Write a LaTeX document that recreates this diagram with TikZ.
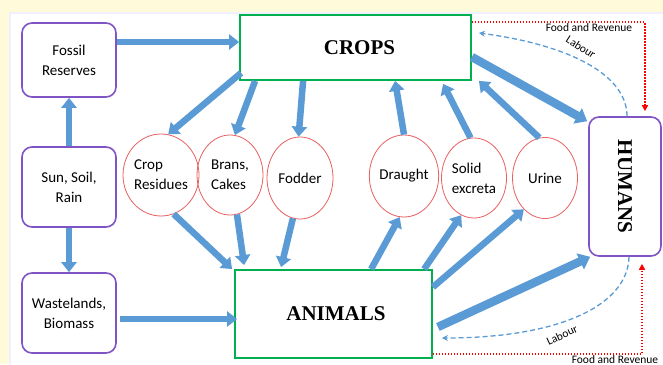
\documentclass[tikz,border=0pt]{standalone}
\usepackage{fontspec}
\setmainfont{Carlito}
\newfontfamily\timesb{Liberation Serif}
\usetikzlibrary{arrows.meta,shapes.geometric}
\definecolor{bgyel}{RGB}{255,250,217}
\definecolor{flow}{RGB}{91,155,213}
\definecolor{purp}{RGB}{128,84,196}
\definecolor{grn}{RGB}{0,176,80}
\definecolor{ell}{RGB}{232,96,96}
\begin{document}
\begin{tikzpicture}[x=1pt,y=-1pt,
  sbox/.style={draw=purp,line width=1.6pt,rounded corners=10pt,minimum width=94pt,align=center,inner sep=0pt,font=\fontsize{15}{20}\selectfont},
  mainbox/.style={draw=grn,line width=1.8pt,inner sep=0pt,font=\timesb\bfseries\fontsize{21}{24}\selectfont},
  oval/.style={ellipse,draw=ell,line width=0.8pt,inner sep=0pt,minimum width=66pt,minimum height=82pt,align=left,font=\fontsize{15}{20}\selectfont},
  flowarrow/.style={draw=flow,line width=6.5pt,-{Triangle[length=10pt,width=15pt]}},
  bigflow/.style={draw=flow,line width=8.5pt,-{Triangle[length=11pt,width=17pt]}},
  labour/.style={draw=flow,line width=1.3pt,dash pattern=on 5pt off 3pt,-{Stealth[length=6pt,width=6pt]}},
  food/.style={draw=red,line width=1.4pt,dash pattern=on 1.5pt off 1.5pt,-{Triangle[length=6pt,width=6pt]}},
  small/.style={font=\fontsize{11.5}{13}\selectfont,inner sep=0pt}
]
\useasboundingbox (0,0) rectangle (663,364);
\fill[bgyel] (0,0) rectangle (663,364);
\filldraw[fill=white,draw=blue!6,line width=1.5pt] (10,13) rectangle (672,372);

% left boxes
\node[sbox,minimum height=74pt] (fossil) at (69,60) {Fossil\\Reserves};
\node[sbox,minimum height=80pt] (sun) at (69,187) {Sun, Soil,\\Rain};
\node[sbox,minimum height=80pt] (waste) at (69,313) {Wastelands,\\Biomass};

% main boxes
\node[mainbox,minimum width=231pt,minimum height=65pt] (crops) at (355.5,47.5) {\hspace*{8pt}CROPS};
\node[mainbox,minimum width=197pt,minimum height=88pt] (animals) at (333.5,314) {\hspace*{5pt}ANIMALS};
\node[draw=purp,line width=1.6pt,rounded corners=10pt,minimum width=72pt,minimum height=139pt,inner sep=0pt] (humans) at (625,186.5) {};
\node[rotate=-90,font=\timesb\bfseries\fontsize{21}{24}\selectfont,inner sep=0pt] (humlab) at (humans) {HUMANS};

% ellipses
\node[oval] (res) at (161,175) {Crop\\Residues};
\node[oval,minimum height=80pt] (brans) at (230,175) {Brans,\\Cakes};
\node[oval] (fodder) at (300,178) {Fodder};
\node[oval,minimum width=64pt] (draught) at (404,176) {Draught};
\node[oval,minimum width=65pt,minimum height=80pt] (solid) at (474,178) {Solid\\excreta};
\node[oval,minimum width=65pt,minimum height=81pt] (urine) at (545,178) {Urine};

% left arrows
\draw[flowarrow] ([yshift=18pt]fossil.east) -- ([yshift=18pt]fossil.east -| crops.west);
\draw[flowarrow] (sun.north) -- (fossil.south);
\draw[flowarrow] (sun.south) -- (waste.north);
\draw[flowarrow] ([xshift=3pt,yshift=-6pt]waste.east) -- ([xshift=3pt,yshift=-6pt]waste.east -| animals.west);

% crops to ellipses
\draw[flowarrow] ([xshift=2pt,yshift=8pt]crops.south west) -- (res.80);
\draw[flowarrow] ([xshift=16pt]crops.south west) -- (brans.83);
\draw[flowarrow] ([xshift=64pt]crops.south west) -- (fodder.92);
% ellipses to crops
\draw[flowarrow] (draught.90) -- ([xshift=156pt]crops.south west);
\draw[flowarrow] (solid.95) -- ([xshift=204pt,yshift=-3pt]crops.south west);
\draw[flowarrow] (urine.98) -- ([xshift=7pt]crops.south east);
% ellipses to animals
\draw[flowarrow] (res.-72) -- ([xshift=-2pt]animals.north west);
\draw[flowarrow] (brans.-80) -- ([xshift=10pt,yshift=4pt]animals.north west);
\draw[flowarrow] (fodder.-100) -- ([xshift=47pt,yshift=2pt]animals.north west);
% animals to ellipses
\draw[flowarrow] ([xshift=137pt]animals.north west) -- (draught.-96);
\draw[flowarrow] ([xshift=190pt]animals.north west) -- (solid.-109);
\draw[flowarrow] ([yshift=-18pt]animals.north east) -- (urine.-124);
% to humans
\draw[bigflow] ([yshift=-9.5pt]crops.east) -- ([xshift=-1pt,yshift=-5pt]humans.north west);
\draw[bigflow] ([xshift=5pt,yshift=-13pt]animals.east) -- ([xshift=2pt]humans.south west);

% labour
\draw[labour] ([xshift=2pt]humans.north) .. controls (627,75) and (570,45) .. ([xshift=7pt,yshift=14.5pt]crops.east);
\draw[labour] ([xshift=4pt]humans.south) .. controls (628,305) and (560,338) .. ([xshift=9pt,yshift=-24pt]animals.east);
\node[small,rotate=-33] (lab1) at (581,47) {Labour};
\node[small,rotate=25] (lab2) at (562,335) {Labour};

% food and revenue
\draw[food] ([yshift=-8pt]crops.north east) -| ([xshift=20pt,yshift=5pt]humans.north);
\draw[food] ([yshift=5pt]animals.south east) -| ([xshift=17pt,yshift=-7pt]humans.south);
\node[small] (fr1) at (589,28) {Food and Revenue};
\node[small] (fr2) at (615,360) {Food and Revenue};
\end{tikzpicture}
\end{document}
